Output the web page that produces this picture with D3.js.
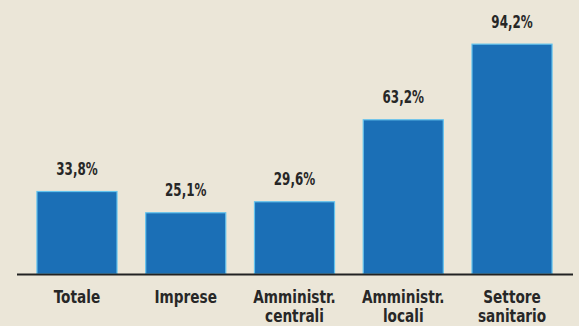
<!DOCTYPE html>
<html>
<head>
<meta charset="utf-8">
<script src="https://cdn.jsdelivr.net/npm/d3@7"></script>
<style>
  html, body { margin: 0; padding: 0; background: #ebe6d8; }
  svg { display: block; }
  .lbl { font-family: "DejaVu Sans Condensed", "DejaVu Sans", sans-serif; font-weight: bold; fill: #272727; }
</style>
</head>
<body>
<svg id="chart"></svg>
<script>
var w = 579;
var h = 326;

var categories = [["Totale"], ["Imprese"], ["Amministr.", "centrali"], ["Amministr.", "locali"], ["Settore", "sanitario"]];
var values = [33.8, 25.1, 29.6, 63.2, 94.2];
var valueLabels = ["33,8%", "25,1%", "29,6%", "63,2%", "94,2%"];

var svg = d3.select("#chart").attr("width", w).attr("height", h);
svg.append("rect").attr("width", w).attr("height", h).attr("fill", "#ebe6d8");

var x = d3.scaleBand().domain(d3.range(values.length)).range([22.6, 566.4]).paddingInner(0.264).paddingOuter(0.132);
var y = d3.scaleLinear().domain([0, 100]).range([274, 30]);

// bars
svg.selectAll("rect.bar").data(values).enter().append("rect")
  .attr("class", "bar")
  .attr("x", function(d, i) { return x(i); })
  .attr("y", function(d) { return y(d); })
  .attr("width", x.bandwidth())
  .attr("height", function(d) { return y(0) - y(d); })
  .attr("fill", "#1b6fb6")
  .attr("stroke", "#63c3ee")
  .attr("stroke-width", 1.2);

// baseline
svg.append("line")
  .attr("x1", 17).attr("x2", 573)
  .attr("y1", y(0) + 0.5).attr("y2", y(0) + 0.5)
  .attr("stroke", "#222").attr("stroke-width", 2);

// value labels (condensed by horizontal scaling)
svg.selectAll("text.val").data(values).enter().append("text")
  .attr("class", "lbl val")
  .attr("transform", function(d, i) {
    return "translate(" + (x(i) + x.bandwidth() / 2) + "," + (y(d) - 16.5) + ") scale(0.78,1)";
  })
  .attr("text-anchor", "middle")
  .style("font-size", "17px")
  .text(function(d, i) { return valueLabels[i]; });

// category labels
var cat = svg.selectAll("text.cat").data(categories).enter().append("text")
  .attr("class", "lbl cat")
  .attr("transform", function(d, i) {
    return "translate(" + (x(i) + x.bandwidth() / 2) + ",302.5) scale(0.82,1)";
  })
  .attr("text-anchor", "middle")
  .style("font-size", "18.5px");
cat.selectAll("tspan").data(function(d) { return d; }).enter().append("tspan")
  .attr("x", 0)
  .attr("dy", function(d, j) { return j === 0 ? 0 : 20; })
  .text(function(d) { return d; });
</script>
</body>
</html>
